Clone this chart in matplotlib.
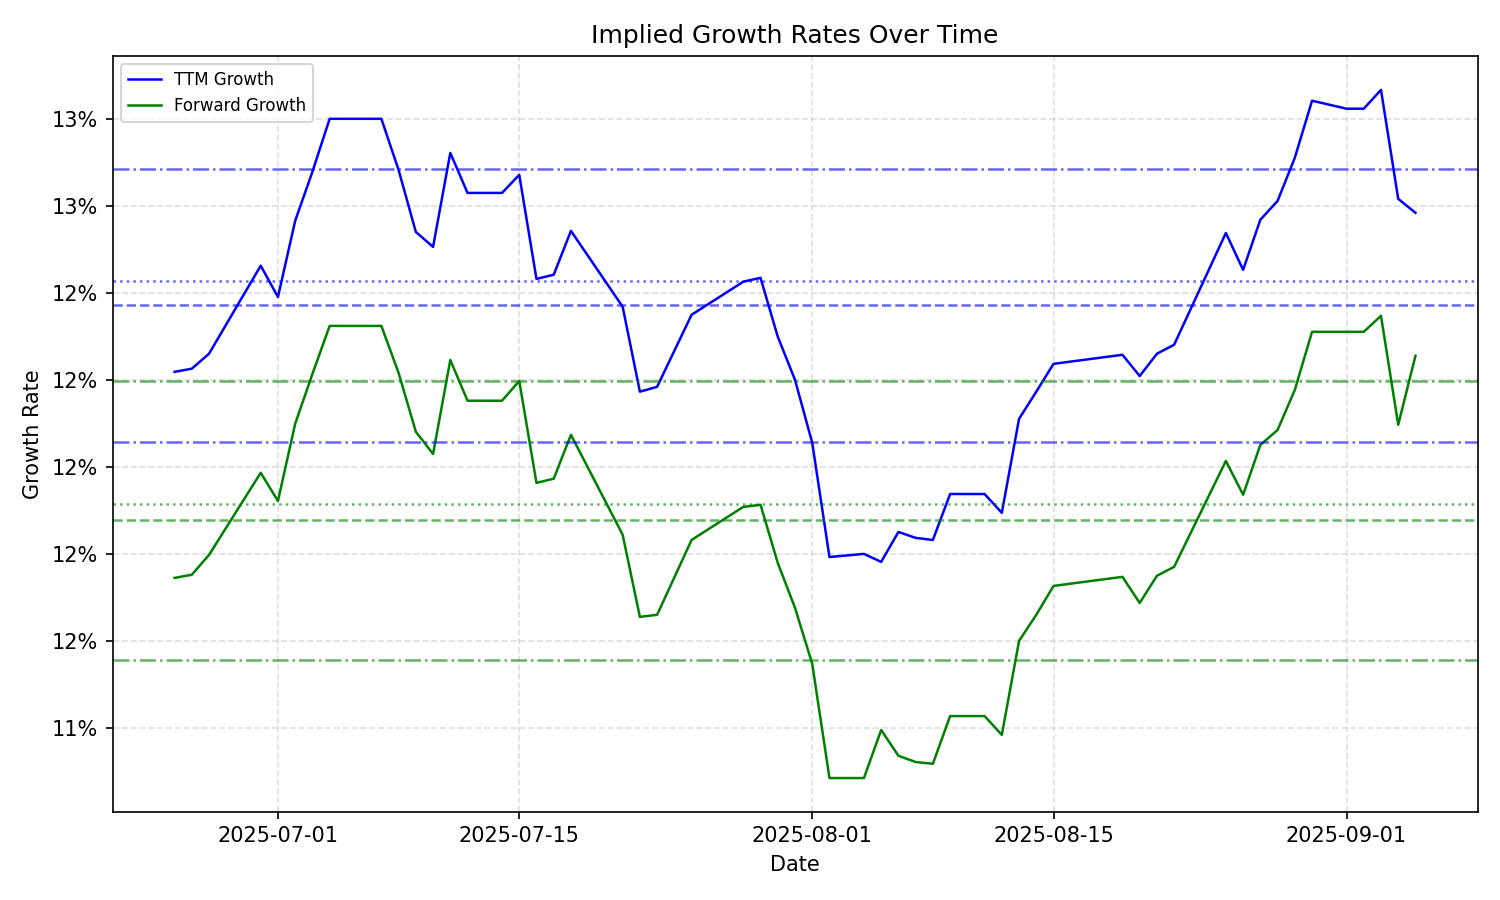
import pandas as pd
import matplotlib.pyplot as plt
from matplotlib.ticker import FuncFormatter

dates = ["2025-06-25", "2025-06-26", "2025-06-27", "2025-06-30", "2025-07-01",
         "2025-07-02", "2025-07-03", "2025-07-04", "2025-07-07", "2025-07-08",
         "2025-07-09", "2025-07-10", "2025-07-11", "2025-07-12", "2025-07-14",
         "2025-07-15", "2025-07-16", "2025-07-17", "2025-07-18", "2025-07-21",
         "2025-07-22", "2025-07-23", "2025-07-25", "2025-07-28", "2025-07-29",
         "2025-07-30", "2025-07-31", "2025-08-01", "2025-08-02", "2025-08-04",
         "2025-08-05", "2025-08-06", "2025-08-07", "2025-08-08", "2025-08-09",
         "2025-08-11", "2025-08-12", "2025-08-13", "2025-08-14", "2025-08-15",
         "2025-08-19", "2025-08-20", "2025-08-21", "2025-08-22", "2025-08-25",
         "2025-08-26", "2025-08-27", "2025-08-28", "2025-08-29", "2025-08-30",
         "2025-09-01", "2025-09-02", "2025-09-03", "2025-09-04", "2025-09-05"]

# values in percent
ttm = [12.273, 12.282, 12.325, 12.578, 12.488, 12.707, 12.848, 13.000, 13.000, 12.853,
       12.675, 12.632, 12.902, 12.787, 12.787, 12.839, 12.540, 12.552, 12.678, 12.460,
       12.216, 12.230, 12.437, 12.532, 12.543, 12.374, 12.250, 12.069, 11.741, 11.750,
       11.727, 11.813, 11.796, 11.790, 11.922, 11.922, 11.868, 12.138, 12.216, 12.296,
       12.322, 12.261, 12.325, 12.351, 12.672, 12.566, 12.710, 12.764, 12.888, 13.052,
       13.029, 13.029, 13.083, 12.770, 12.730]

fwd = [11.681, 11.690, 11.747, 11.983, 11.902, 12.124, 12.267, 12.405, 12.405, 12.270,
       12.101, 12.037, 12.307, 12.190, 12.190, 12.247, 11.954, 11.966, 12.092, 11.805,
       11.569, 11.575, 11.790, 11.885, 11.891, 11.724, 11.595, 11.434, 11.106, 11.106,
       11.244, 11.170, 11.152, 11.147, 11.284, 11.284, 11.230, 11.500, 11.575, 11.658,
       11.684, 11.609, 11.687, 11.713, 12.017, 11.920, 12.063, 12.106, 12.221, 12.388,
       12.388, 12.388, 12.434, 12.121, 12.319]

# reference levels: mean, median, mean +/- std
ttm_levels = {"mean": 12.466, "median": 12.534, "upper": 12.856, "lower": 12.072}
fwd_levels = {"mean": 11.848, "median": 11.894, "upper": 12.247, "lower": 11.445}

x = pd.to_datetime(dates)

fig, ax = plt.subplots(figsize=(10, 6), dpi=150)
ax.plot(x, [v / 100 for v in ttm], color="blue", lw=1.2, label="TTM Growth")
ax.plot(x, [v / 100 for v in fwd], color="green", lw=1.2, label="Forward Growth")

for levels, c in [(ttm_levels, "blue"), (fwd_levels, "green")]:
    ax.axhline(levels["mean"] / 100, color=c, ls="--", alpha=0.6, lw=1.2)
    ax.axhline(levels["median"] / 100, color=c, ls=":", alpha=0.6, lw=1.2)
    ax.axhline(levels["upper"] / 100, color=c, ls="-.", alpha=0.6, lw=1.2)
    ax.axhline(levels["lower"] / 100, color=c, ls="-.", alpha=0.6, lw=1.2)

ax.yaxis.set_major_formatter(FuncFormatter(lambda v, p: "{:.0%}".format(v)))
ax.set_ylim(0.11009, 0.13181)
ax.set_title("Implied Growth Rates Over Time", fontsize=12)
ax.set_xlabel("Date")
ax.set_ylabel("Growth Rate")
ax.grid(True, ls="--", alpha=0.4)
ax.legend(loc="upper left", fontsize=8)
fig.subplots_adjust(left=0.075, right=0.985, top=0.938, bottom=0.098)
fig.savefig("out.png")
